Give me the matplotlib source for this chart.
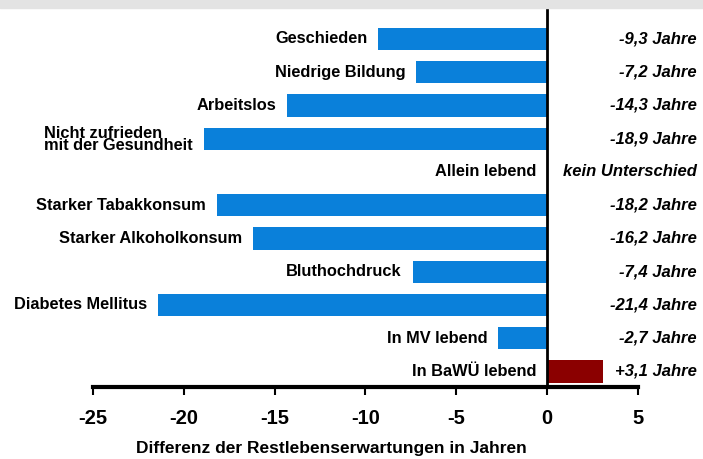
import matplotlib
matplotlib.use("Agg")
import matplotlib.pyplot as plt
from matplotlib.patches import Rectangle

labels = ["Geschieden", "Niedrige Bildung", "Arbeitslos",
          "Nicht zufrieden\nmit der Gesundheit", "Allein lebend",
          "Starker Tabakkonsum", "Starker Alkoholkonsum", "Bluthochdruck",
          "Diabetes Mellitus", "In MV lebend", "In BaW\u00dc lebend"]
values = [-9.3, -7.2, -14.3, -18.9, 0.0, -18.2, -16.2, -7.4, -21.4, -2.7, 3.1]
value_text = ["-9,3 Jahre", "-7,2 Jahre", "-14,3 Jahre", "-18,9 Jahre",
              "kein Unterschied", "-18,2 Jahre", "-16,2 Jahre", "-7,4 Jahre",
              "-21,4 Jahre", "-2,7 Jahre", "+3,1 Jahre"]
xticks = [-25, -20, -15, -10, -5, 0, 5]
xlabel = "Differenz der Restlebenserwartungen in Jahren"

plt.rcParams["font.family"] = ["Liberation Sans", "DejaVu Sans"]

fig = plt.figure(figsize=(7.03, 4.59), dpi=100)
ax = fig.add_axes([93 / 703, 1 - 387 / 459, 545 / 703, 378 / 459])

# grey band at top (cropped title area)
fig.patches.append(Rectangle((0, 1 - 8 / 459), 1, 8 / 459, transform=fig.transFigure,
                             color="#e3e3e3", zorder=0))

pos = list(range(len(labels)))
colors = ["#0a80da" if v < 0 else "#8b0000" for v in values]
ax.barh(pos, values, height=0.67, color=colors, zorder=2)

ax.set_xlim(-25, 5)
ax.set_ylim(10.47, -0.9)
ax.axvline(0, color="black", lw=2, zorder=3)

gap = 0.6
for y, lab, v, t in zip(pos, labels, values, value_text):
    x0 = min(v, 0) - gap
    if "\n" in lab:
        ax.text(x0, y + 0.03, lab, ha="right", va="center", fontsize=11.8,
                fontweight="bold", multialignment="left", linespacing=0.72)
    else:
        ax.text(x0, y, lab, ha="right", va="center", fontsize=11.8, fontweight="bold")
    ax.text(1.108, y, t, transform=ax.get_yaxis_transform(), ha="right", va="center",
            fontsize=12, fontweight="bold", style="italic", clip_on=False)

for s in ["top", "right", "left"]:
    ax.spines[s].set_visible(False)
ax.spines["bottom"].set_linewidth(3)
ax.set_yticks([])
ax.set_xticks(xticks)
ax.set_xticklabels([str(x) for x in xticks], fontsize=14.5, fontweight="bold")
ax.tick_params(axis="x", length=6, width=1.5, pad=10)

fig.text(331 / 703, 1 - 448 / 459, xlabel, ha="center", va="center",
         fontsize=12.5, fontweight="bold")

fig.savefig("out.png", dpi=100)
